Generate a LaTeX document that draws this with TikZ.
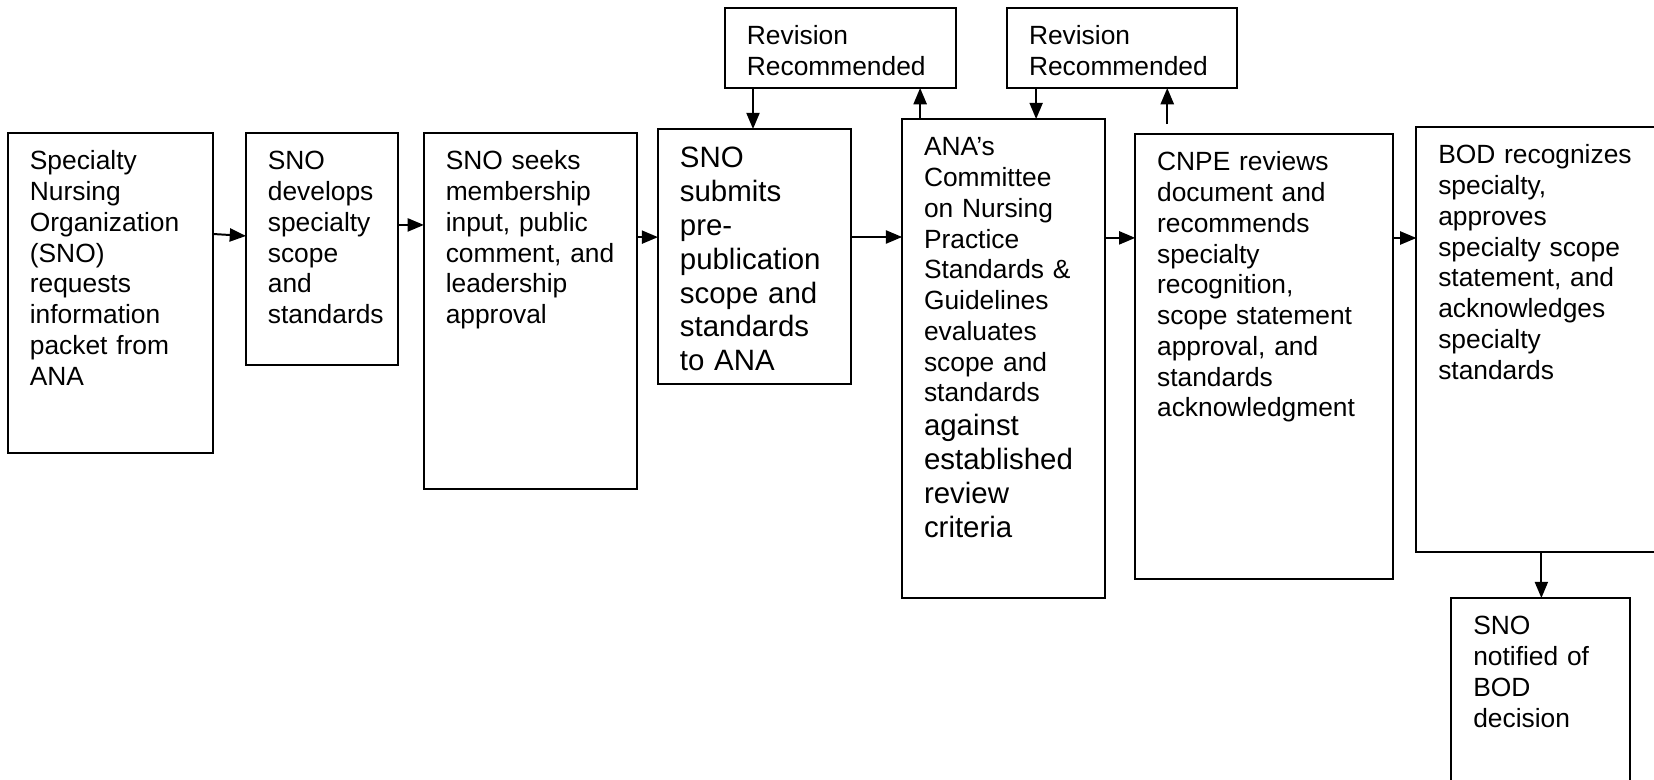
\documentclass[tikz,border=0pt]{standalone}
\usepackage{fontspec}
\setmainfont{Liberation Sans}
\usepackage{tikz}
\usetikzlibrary{positioning}
\usetikzlibrary{arrows.meta}

\begin{document}
\begin{tikzpicture}
[
stage/.style={draw, line width=0.9pt, anchor=north west, inner xsep=3.5mm, inner ysep=0mm, outer sep=0mm,
              align=left, text height=5.9mm, font=\fontsize{12pt}{14pt}\selectfont},
big/.style={font=\fontsize{13.4pt}{15.4pt}\selectfont},
flow/.style={line width=0.9pt, -{Triangle[length=2.6mm, width=2.1mm]}}
]
\useasboundingbox (0mm,0mm) rectangle (264.64mm,-124.64mm);
\clip (0mm,0mm) rectangle (264.64mm,-124.64mm);
\node (req)    [stage, text width=25.8mm, text depth=45.3mm] at (1.28mm,-21.28mm)
               {Specialty\\Nursing\\Organization\\(SNO)\\requests\\information\\packet from\\ANA};
\node (dev)    [stage, text width=17.3mm, text depth=31.2mm, right = 05.28mm of req.north east, anchor=north west]
               {SNO\\develops\\specialty\\scope\\and\\standards};
\node (seek)   [stage, text width=27.1mm, text depth=51.1mm, right = 04.16mm of dev.north east, anchor=north west]
               {SNO seeks\\membership\\input, public\\comment, and\\leadership\\approval};
\node (submit) [stage, big, text width=23.9mm, text height=6.2mm, text depth=34.6mm, right = 03.36mm of seek.north east, anchor=north west, yshift=0.64mm]
               {SNO\\submits\\pre-\\publication\\scope and\\standards\\to ANA};
\node (cnps)   [stage, text width=25.5mm, text depth=70.7mm, right = 08.16mm of submit.north east, anchor=north west, yshift=1.6mm]
               {ANA’s\\Committee\\on Nursing\\Practice\\Standards \&\\Guidelines\\evaluates\\scope and\\standards\par
               {\fontsize{13.4pt}{15.4pt}\selectfont against\\established\\review\\criteria\par}};
\node (cnpe)   [stage, text width=34.3mm, text depth=65.3mm, right = 04.80mm of cnps.north east, anchor=north west, yshift=-2.4mm]
               {CNPE reviews\\document and\\recommends\\specialty\\recognition,\\scope statement\\approval, and\\standards\\acknowledgment};
\node (bod)    [stage, text width=32.5mm, text depth=62.1mm, right = 03.68mm of cnpe.north east, anchor=north west, yshift=1.12mm]
               {BOD recognizes\\specialty,\\approves\\specialty scope\\statement, and\\acknowledges\\specialty\\standards};
\node (notify) [stage, text width=21.6mm, text depth=26.4mm, below = 07.36mm of bod.south west, anchor=north west, xshift=5.6mm]
               {SNO\\notified of\\BOD\\decision};
\node (rev-1)  [stage, text width=30.0mm, text depth=6.9mm, above = 06.56mm of submit.north west, anchor=south west, xshift=10.72mm]
               {Revision\\Recommended};
\node (rev-2)  [stage, text width=29.8mm, text depth=6.9mm, above = 04.96mm of cnps.north west, anchor=south west, xshift=16.8mm]
               {Revision\\Recommended};
% main flow
\draw [flow] ([yshift=9.44mm]req.east)    -- ([yshift=2.08mm]dev.west);
\draw [flow] ([yshift=3.84mm]dev.east)    -- ([yshift=3.84mm]dev.east -| seek.west);
\draw [flow] ([yshift=11.84mm]seek.east)  -- ([yshift=11.84mm]seek.east -| submit.west);
\draw [flow] ([yshift=3.12mm]submit.east) -- ([yshift=3.12mm]submit.east -| cnps.west);
\draw [flow] ([yshift=19.28mm]cnps.east)  -- ([yshift=19.28mm]cnps.east -| cnpe.west);
\draw [flow] ([yshift=18.96mm]cnpe.east)  -- ([yshift=18.96mm]cnpe.east -| bod.west);
\draw [flow] ([xshift=20mm]bod.south west) -- ([xshift=20mm]bod.south west |- notify.north);
% revision loops
\draw [flow] ([xshift=4.48mm]rev-1.south west) -- ([xshift=4.48mm]rev-1.south west |- submit.north);
\draw [flow] ([xshift=2.88mm]cnps.north west)  -- ([xshift=2.88mm]cnps.north west |- rev-1.south);
\draw [flow] ([xshift=4.64mm]rev-2.south west) -- ([xshift=4.64mm]rev-2.south west |- cnps.north);
\draw [flow] ([xshift=5.12mm,yshift=1.6mm]cnpe.north west) -- ([xshift=5.12mm]cnpe.north west |- rev-2.south);
\end{tikzpicture}
\end{document}
